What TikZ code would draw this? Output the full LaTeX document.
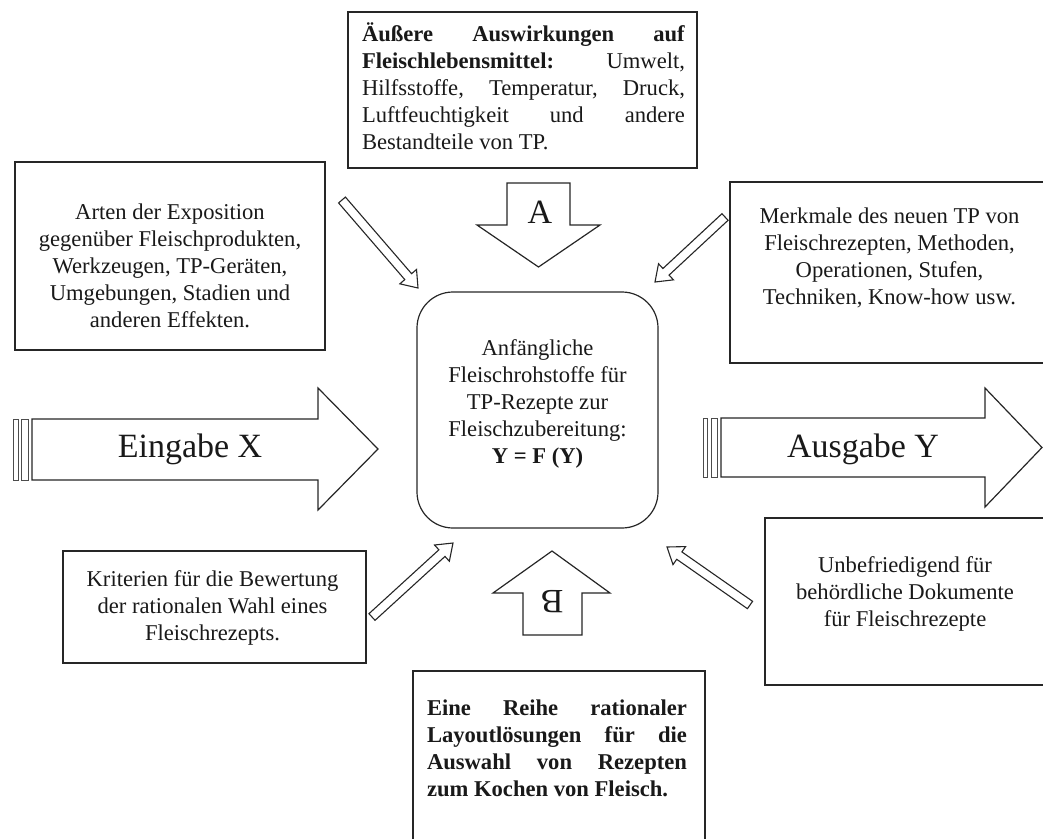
\documentclass[tikz,border=0pt]{standalone}
\usepackage{fontspec}
\setmainfont{Liberation Serif}
\usetikzlibrary{calc}
\newcommand\fs{\fontsize{22.6}{27}\selectfont}
\newcommand\bigfs{\fontsize{34}{40}\selectfont}
\newcommand\harrow[2]{%
  \coordinate (hb) at ($(#2)!15pt!(#1)$);
  \draw[hollow] ($(#1)!4.5pt!90:(#2)$) -- ($(hb)!4.5pt!-90:(#1)$) -- ($(hb)!11pt!-90:(#1)$)
    -- (#2) -- ($(hb)!11pt!90:(#1)$) -- ($(hb)!4.5pt!90:(#1)$) -- ($(#1)!4.5pt!-90:(#2)$) -- cycle;}
\begin{document}
\begin{tikzpicture}[x=1pt,y=-1pt,
  frame/.style={draw=black!85, line width=1.2pt, inner sep=0pt, outer sep=0pt},
  txt/.style={font=\fs, align=center, inner sep=0pt, text=black!90},
  bigtxt/.style={font=\bigfs, inner sep=0pt, text=black!90},
  block/.style={draw=black!85, line width=1.2pt, fill=white, line join=miter},
  stripe/.style={draw=black!70, line width=0.8pt, fill=white},
  hollow/.style={draw=black!85, line width=1.1pt, fill=white, line join=miter}]
\useasboundingbox (0,0) rectangle (1043,838);
\clip (0,0) rectangle (1043,838);

% ---- boxes ----
\node[frame, minimum width=349pt, minimum height=156pt] (topbox) at (522.5,90) {};
\node[txt, align=left] (toptxt) at (523.5,86) {%
  \makebox[323pt][s]{\textbf{Äußere}\hfill\textbf{Auswirkungen}\hfill\textbf{auf}}\\
  \makebox[323pt][s]{\textbf{Fleischlebensmittel:}\hfill Umwelt,}\\
  \makebox[323pt][s]{Hilfsstoffe,\hfill Temperatur,\hfill Druck,}\\
  \makebox[323pt][s]{Luftfeuchtigkeit\hfill und\hfill andere}\\
  \makebox[323pt][l]{Bestandteile von TP.}};

\node[frame, minimum width=310pt, minimum height=188pt] (lbox) at (170,256) {};
\node[txt] (ltxt) at (170,266) {Arten der Exposition\\gegenüber Fleischprodukten,\\Werkzeugen, TP-Geräten,\\Umgebungen, Stadien und\\anderen Effekten.};

\node[frame, minimum width=320pt, minimum height=181pt] (rbox) at (890,272.5) {};
\node[txt] (rtxt) at (889.5,258) {Merkmale des neuen TP von\\Fleischrezepten, Methoden,\\Operationen, Stufen,\\Techniken, Know-how usw.};

\node[frame, rounded corners=36pt, minimum width=241pt, minimum height=236pt] (center) at (537.5,410) {};
\node[txt] (ctxt) at (537.5,404) {Anfängliche\\Fleischrohstoffe für\\TP-Rezepte zur\\Fleischzubereitung:\\\textbf{Y = F (Y)}};

\node[frame, minimum width=303pt, minimum height=112pt] (blbox) at (214.5,607) {};
\node[txt] (bltxt) at (212.5,608) {Kriterien für die Bewertung\\der rationalen Wahl eines\\Fleischrezepts.};

\node[frame, minimum width=290pt, minimum height=167pt] (brbox) at (910,601.5) {};
\node[txt] (brtxt) at (905,594) {Unbefriedigend für\\behördliche Dokumente\\für Fleischrezepte};

\node[frame, minimum width=292pt, minimum height=200pt] (botbox) at (559,771) {};
\node[txt, font=\fs\bfseries, align=left] (bottxt) at (557,748.5) {%
  \makebox[260pt][s]{Eine\hfill Reihe\hfill rationaler}\\
  \makebox[260pt][s]{Layoutlösungen\hfill für\hfill die}\\
  \makebox[260pt][s]{Auswahl\hfill von\hfill Rezepten}\\
  \makebox[260pt][l]{zum Kochen von Fleisch.}};

% ---- block arrows ----
\draw[stripe] (13,419) rectangle (18,480);
\draw[stripe] (21,419) rectangle (28,480);
\draw[block] (32,419) -- (318,419) -- (318,388) -- (378,449) -- (318,510) -- (318,480) -- (32,480) -- cycle;
\node[bigtxt] (ein) at (190,449) {Eingabe X};

\draw[stripe] (703,418) rectangle (707,477);
\draw[stripe] (711,418) rectangle (717,477);
\draw[block] (721,418) -- (985,418) -- (985,388) -- (1042,447.5) -- (985,507) -- (985,477) -- (721,477) -- cycle;
\node[bigtxt] (aus) at (863,449) {Ausgabe Y};

\draw[block] (507,183) -- (570,183) -- (570,225) -- (600,225) -- (538.5,267) -- (477,225) -- (507,225) -- cycle;
\node[bigtxt] (A) at (540,212) {A};

\draw[block] (523,635) -- (582,635) -- (582,593) -- (610,593) -- (552,551) -- (493,593) -- (523,593) -- cycle;
\node[bigtxt, rotate=180] (B) at (552,602) {B};

% ---- hollow arrows ----
\coordinate (tlT) at (342,200); \coordinate (tlH) at (418,288);
\coordinate (trT) at (725,217); \coordinate (trH) at (655,282);
\coordinate (blT) at (372,617); \coordinate (blH) at (453,543);
\coordinate (brT) at (750,605); \coordinate (brH) at (667,547);
\harrow{tlT}{tlH}
\harrow{trT}{trH}
\harrow{blT}{blH}
\harrow{brT}{brH}
\end{tikzpicture}
\end{document}
